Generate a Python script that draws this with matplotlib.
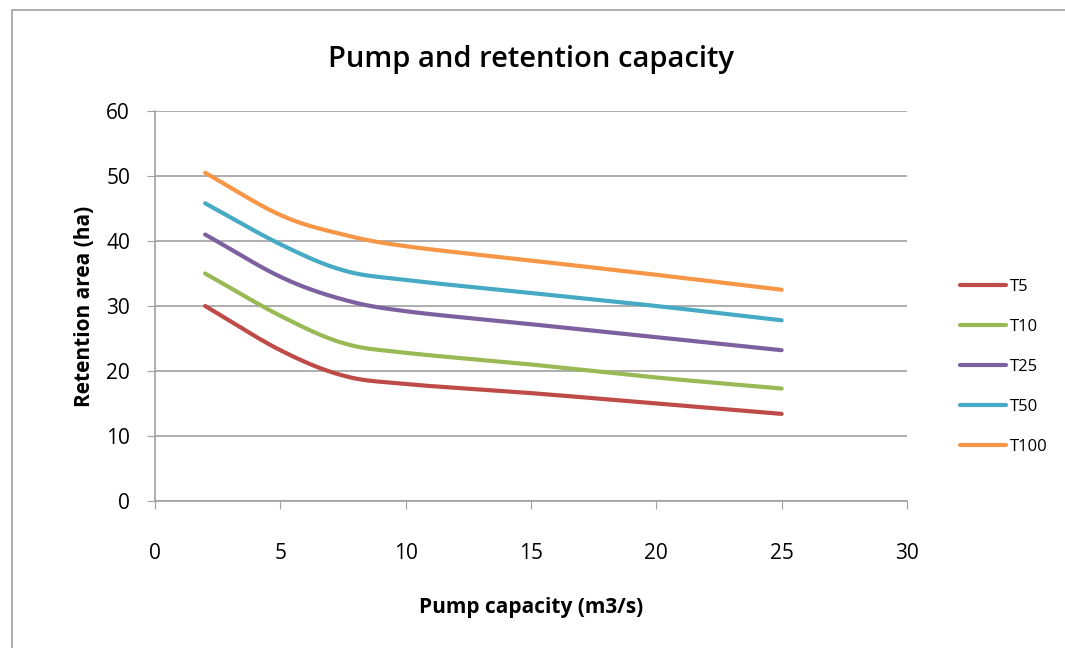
import numpy as np
import matplotlib.pyplot as plt
from matplotlib.patches import Rectangle

pump = [2, 5, 7.5, 10, 15, 20, 25]
t5 = [30, 23.2, 19.3, 18, 16.6, 15, 13.4]
t10 = [35, 28.5, 24.3, 22.8, 21, 19, 17.3]
t25 = [41, 34.5, 31, 29.2, 27.2, 25.2, 23.2]
t50 = [45.8, 39.5, 35.5, 34, 32, 30, 27.8]
t100 = [50.5, 44, 41, 39.2, 37, 34.8, 32.5]

series = [("T5", t5, "#be4b48"), ("T10", t10, "#98b954"), ("T25", t25, "#7d60a0"),
          ("T50", t50, "#46aac5"), ("T100", t100, "#f79646")]


def smooth(x, y, n=30):
    # catmull-rom, roughly like Excel's smoothed lines
    x = np.asarray(x, float)
    y = np.asarray(y, float)
    px = np.concatenate([[2 * x[0] - x[1]], x, [2 * x[-1] - x[-2]]])
    py = np.concatenate([[2 * y[0] - y[1]], y, [2 * y[-1] - y[-2]]])
    xs, ys = [], []
    t = np.linspace(0, 1, n)
    for i in range(1, len(px) - 2):
        for p, out in ((px, xs), (py, ys)):
            p0, p1, p2, p3 = p[i - 1], p[i], p[i + 1], p[i + 2]
            out.extend(0.5 * (2 * p1 + (-p0 + p2) * t + (2 * p0 - 5 * p1 + 4 * p2 - p3) * t ** 2
                              + (-p0 + 3 * p1 - 3 * p2 + p3) * t ** 3))
    return xs, ys


plt.rcParams['font.family'] = ['Open Sans', 'DejaVu Sans']

fig = plt.figure(figsize=(10.65, 6.48), dpi=100)
fig.patches.append(Rectangle((12 / 1065, -0.1), 1.2, 1 - 10 / 648 + 0.1, transform=fig.transFigure,
                             fill=False, edgecolor="#a0a0a0", linewidth=1.2))
ax = fig.add_axes([155 / 1065, 1 - 501 / 648, 752 / 1065, 390 / 648])

for name, vals, col in series:
    sx, sy = smooth(pump, vals)
    ax.plot(sx, sy, color=col, linewidth=3, label=name, solid_capstyle='round')

ax.set_xlim(0, 30)
ax.set_ylim(0, 60)
ax.set_xticks(range(0, 31, 5))
ax.set_yticks(range(0, 61, 10))
ax.grid(axis='y', color="#a0a0a0", linewidth=1.2)
ax.set_axisbelow(True)
for s in ['top', 'right']:
    ax.spines[s].set_visible(False)
for s in ['left', 'bottom']:
    ax.spines[s].set_color("#a0a0a0")
    ax.spines[s].set_linewidth(1.2)
ax.tick_params(axis='x', direction='out', length=6, color="#a0a0a0", pad=24, labelsize=15)
ax.tick_params(axis='y', direction='out', length=6, color="#a0a0a0", pad=12, labelsize=15)

ax.set_title("Pump and retention capacity", fontsize=21, fontweight='semibold', pad=32)
ax.set_xlabel("Pump capacity (m3/s)", fontsize=15, fontweight='bold', labelpad=24)
ax.set_ylabel("Retention area (ha)", fontsize=15, fontweight='bold', labelpad=8)

ax.legend(loc='center left', bbox_to_anchor=(1.05, 0.344), frameon=False, fontsize=12,
          handlelength=2.8, labelspacing=1.45, handletextpad=0.2)

fig.savefig("out.png", dpi=100)
